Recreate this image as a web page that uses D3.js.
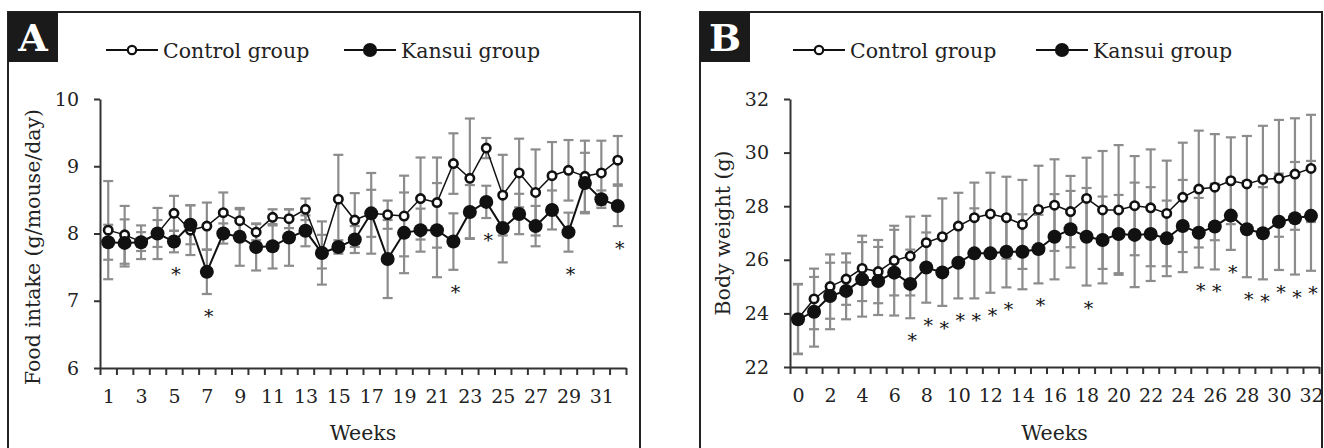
<!DOCTYPE html>
<html>
<head>
<meta charset="utf-8">
<script src="https://cdn.jsdelivr.net/npm/d3@7"></script>
<style>
  body { margin: 0; background: #fff; }
  svg text { font-family: "DejaVu Serif", serif; fill: #222; }
</style>
</head>
<body>
<svg id="chart" width="1324" height="448"></svg>
<script>
// ---- data ----
var weeksA = [1,2,3,4,5,6,7,8,9,10,11,12,13,14,15,16,17,18,19,20,21,22,23,24,25,26,27,28,29,30,31,32];
var tickLabelsA = [1,3,5,7,9,11,13,15,17,19,21,23,25,27,29,31];
var controlA = [8.05,7.98,7.88,8.00,8.30,8.05,8.11,8.31,8.19,8.02,8.24,8.22,8.36,7.73,8.51,8.20,8.30,8.28,8.26,8.52,8.46,9.04,8.82,9.27,8.57,8.90,8.61,8.86,8.94,8.85,8.90,9.09];
var sdControlA = [0.73,0.43,0.14,0.20,0.26,0.37,0.35,0.30,0.17,0.12,0.12,0.14,0.16,0.25,0.66,0.40,0.60,0.21,0.60,0.61,0.67,0.45,0.89,0.15,0.60,0.51,0.64,0.50,0.45,0.53,0.48,0.36];
var kansuiA = [7.87,7.86,7.87,8.00,7.88,8.13,7.43,8.00,7.95,7.80,7.81,7.94,8.04,7.71,7.80,7.91,8.30,7.62,8.01,8.05,8.05,7.88,8.32,8.47,8.08,8.29,8.11,8.35,8.02,8.75,8.51,8.41];
var sdKansuiA = [0.26,0.35,0.25,0.38,0.16,0.29,0.33,0.15,0.43,0.35,0.33,0.42,0.23,0.47,0.10,0.20,0.35,0.58,0.60,0.32,0.70,0.42,0.40,0.24,0.51,0.30,0.30,0.29,0.29,0.45,0.13,0.30];
var starsA = [5,7,22,24,29,32];

var weeksB = [0,1,2,3,4,5,6,7,8,9,10,11,12,13,14,15,16,17,18,19,20,21,22,23,24,25,26,27,28,29,30,31,32];
var tickLabelsB = [0,2,4,6,8,10,12,14,16,18,20,22,24,26,28,30,32];
var controlB = [23.80,24.54,25.00,25.28,25.68,25.56,25.97,26.14,26.64,26.86,27.26,27.57,27.71,27.57,27.32,27.88,28.04,27.80,28.29,27.86,27.86,28.02,27.94,27.73,28.33,28.64,28.71,28.95,28.83,29.00,29.04,29.20,29.41];
var sdControlB = [1.30,1.13,1.20,0.96,1.22,1.18,1.30,1.47,1.00,1.43,1.24,1.31,1.54,1.53,1.66,1.63,1.71,1.33,1.52,2.20,2.42,1.85,2.18,1.97,2.04,2.18,1.98,1.62,1.79,2.00,2.18,2.08,2.00];
var kansuiB = [23.78,24.06,24.65,24.84,25.27,25.21,25.52,25.10,25.71,25.53,25.89,26.24,26.24,26.30,26.30,26.40,26.86,27.14,26.86,26.74,26.96,26.93,26.96,26.80,27.26,27.01,27.24,27.65,27.14,26.99,27.42,27.55,27.64];
var sdKansuiB = [1.30,1.30,1.24,1.06,1.39,1.27,1.60,1.28,1.31,1.25,1.33,1.68,1.47,1.33,1.40,1.28,1.59,1.43,1.82,1.62,1.46,1.95,1.75,1.41,1.72,1.30,1.60,1.28,1.79,1.72,1.80,2.10,2.05];
var starsB = [7,8,9,10,11,12,13,15,18,25,26,27,28,29,30,31,32];

var svg = d3.select('#chart');
var axisColor = '#333';
var barColor = '#8c8c8c';

function drawPanel(p) {
    var g = svg.append('g');

    // frame + letter box
    g.append('rect')
        .attr('x', p.frame[0]).attr('y', 12)
        .attr('width', p.frame[1] - p.frame[0]).attr('height', 460)
        .attr('fill', 'none').attr('stroke', '#222').attr('stroke-width', 2);
    g.append('rect')
        .attr('x', p.frame[0]).attr('y', 12).attr('width', 50).attr('height', 50)
        .attr('fill', '#1a1a1a');
    g.append('text')
        .attr('x', p.frame[0] + 25).attr('y', 51)
        .attr('text-anchor', 'middle')
        .style('font-size', '38px').style('font-weight', 'bold').style('fill', '#fff')
        .text(p.letter);

    var x = d3.scaleLinear().domain(p.xDomain).range([p.left, p.right]);
    var y = d3.scaleLinear().domain(p.yDomain).range([p.bottom, p.top]);

    // axes
    var yAxis = g.append('g')
        .attr('transform', 'translate(' + p.left + ',0)')
        .call(d3.axisLeft(y).tickValues(p.yTicks).tickFormat(d3.format('d'))
            .tickSize(6).tickSizeOuter(0).tickPadding(15));
    var boundaries = d3.range(p.xDomain[0], p.xDomain[1] + 0.01, 1);
    var xTicks = g.append('g')
        .attr('transform', 'translate(0,' + p.bottom + ')')
        .call(d3.axisBottom(x).tickValues(boundaries).tickSize(7).tickSizeOuter(0).tickFormat(''));
    var xLabels = g.append('g')
        .attr('transform', 'translate(0,' + p.bottom + ')')
        .call(d3.axisBottom(x).tickValues(p.tickLabels).tickFormat(d3.format('d'))
            .tickSize(0).tickPadding(22));
    xLabels.select('.domain').remove();

    [yAxis, xTicks, xLabels].forEach(function (a) {
        a.attr('font-family', null);
        a.selectAll('path, line').attr('stroke', axisColor).attr('stroke-width', 2);
        a.selectAll('text').style('font-size', '19px').style('fill', '#222');
    });

    // titles
    g.append('text')
        .attr('transform', 'translate(' + p.yTitlePos[0] + ',' + p.yTitlePos[1] + ') rotate(-90)')
        .attr('text-anchor', 'middle').attr('dy', '0.35em')
        .style('font-size', '20.5px')
        .text(p.yTitle);
    g.append('text')
        .attr('x', (p.left + p.right) / 2).attr('y', 440)
        .attr('text-anchor', 'middle')
        .style('font-size', '20.5px')
        .text('Weeks');

    // legend
    var leg = [
        {name: 'Control group', x: p.legendX[0], fill: '#fff', r: 4.2},
        {name: 'Kansui group', x: p.legendX[1], fill: '#111', r: 6}
    ];
    leg.forEach(function (l) {
        g.append('line').attr('x1', l.x).attr('x2', l.x + 52).attr('y1', 50).attr('y2', 50)
            .attr('stroke', '#111').attr('stroke-width', 2);
        g.append('circle').attr('cx', l.x + 26).attr('cy', 50).attr('r', l.r)
            .attr('fill', l.fill).attr('stroke', '#111').attr('stroke-width', 2.2);
        g.append('text').attr('x', l.x + 57).attr('y', 58)
            .style('font-size', '20.5px').text(l.name);
    });

    var series = [
        {vals: p.control, sd: p.sdC, fill: '#fff', r: 4.2, sw: 2.6, lw: 1.5},
        {vals: p.kansui, sd: p.sdK, fill: '#111', r: 7, sw: 0, lw: 2}
    ];

    // error bars (behind)
    series.forEach(function (s) {
        var eb = g.append('g').selectAll('g').data(p.weeks).enter().append('g');
        eb.append('line')
            .attr('x1', function (w) { return x(w); }).attr('x2', function (w) { return x(w); })
            .attr('y1', function (w, i) { return y(s.vals[i] + s.sd[i]); })
            .attr('y2', function (w, i) { return y(s.vals[i] - s.sd[i]); })
            .attr('stroke', barColor).attr('stroke-width', 2.2);
        [1, -1].forEach(function (sign) {
            eb.append('line')
                .attr('x1', function (w) { return x(w) - 5; }).attr('x2', function (w) { return x(w) + 5; })
                .attr('y1', function (w, i) { return y(s.vals[i] + sign * s.sd[i]); })
                .attr('y2', function (w, i) { return y(s.vals[i] + sign * s.sd[i]); })
                .attr('stroke', barColor).attr('stroke-width', 2.2);
        });
    });

    // lines + markers
    series.forEach(function (s) {
        var line = d3.line()
            .x(function (w) { return x(w); })
            .y(function (w, i) { return y(s.vals[i]); });
        g.append('path').datum(p.weeks).attr('d', line)
            .attr('fill', 'none').attr('stroke', '#111').attr('stroke-width', s.lw);
        g.append('g').selectAll('circle').data(p.weeks).enter().append('circle')
            .attr('cx', function (w) { return x(w); })
            .attr('cy', function (w, i) { return y(s.vals[i]); })
            .attr('r', s.r)
            .attr('fill', s.fill).attr('stroke', '#111').attr('stroke-width', s.sw);
    });

    // significance marks under the lowest bar end
    g.append('g').selectAll('text').data(p.stars).enter().append('text')
        .attr('x', function (w) { return x(w) + 2; })
        .attr('y', function (w) {
            var i = p.weeks.indexOf(w);
            var low = Math.min(p.control[i] - p.sdC[i], p.kansui[i] - p.sdK[i]);
            return y(low) + 29;
        })
        .attr('text-anchor', 'middle')
        .style('font-size', '19px').style('fill', '#111')
        .text('*');
}

drawPanel({
    letter: 'A', frame: [8, 640],
    left: 100, right: 626, top: 99, bottom: 368,
    xDomain: [0.5, 32.5], yDomain: [6, 10], yTicks: [6, 7, 8, 9, 10],
    weeks: weeksA, tickLabels: tickLabelsA,
    control: controlA, sdC: sdControlA, kansui: kansuiA, sdK: sdKansuiA, stars: starsA,
    yTitle: 'Food intake (g/mouse/day)', yTitlePos: [33, 247],
    legendX: [106, 344]
});

drawPanel({
    letter: 'B', frame: [700, 1322],
    left: 790, right: 1319, top: 99, bottom: 367,
    xDomain: [-0.5, 32.5], yDomain: [22, 32], yTicks: [22, 24, 26, 28, 30, 32],
    weeks: weeksB, tickLabels: tickLabelsB,
    control: controlB, sdC: sdControlB, kansui: kansuiB, sdK: sdKansuiB, stars: starsB,
    yTitle: 'Body weight (g)', yTitlePos: [723, 233],
    legendX: [793, 1036]
});
</script>
</body>
</html>
